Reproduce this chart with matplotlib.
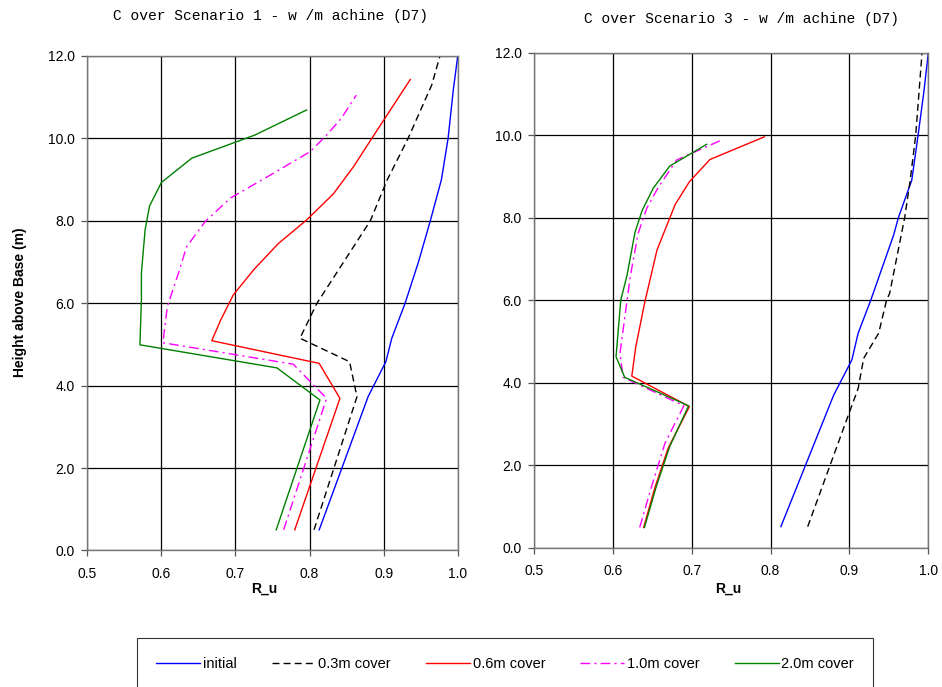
import numpy as np
import matplotlib
matplotlib.use("Agg")
import matplotlib.pyplot as plt

plt.rcParams['font.family'] = ['Liberation Sans', 'DejaVu Sans']

# ---- data (height above base in m, R_u) ----
# Cover scenario 1
s1_init_h = [0.5, 3.73, 4.58, 5.15, 6.0, 7.0, 8.0, 9.0, 10.0, 11.17, 12.0]
s1_init_r = [0.813, 0.879, 0.903, 0.911, 0.929, 0.947, 0.963, 0.978, 0.987, 0.994, 1.0]

s1_c03_h = [0.5, 3.73, 4.58, 5.15, 6.0, 7.0, 8.0, 9.0, 10.0, 11.3, 12.0]
s1_c03_r = [0.806, 0.864, 0.854, 0.787, 0.81, 0.846, 0.882, 0.905, 0.933, 0.965, 0.976]

s1_c06_h = [0.5, 3.69, 4.54, 5.09, 5.59, 6.2, 6.82, 7.45, 8.02, 8.65, 9.33, 10.0, 11.43]
s1_c06_r = [0.780, 0.841, 0.813, 0.668, 0.680, 0.697, 0.725, 0.758, 0.796, 0.832, 0.860, 0.884, 0.936]

s1_c10_h = [0.5, 3.69, 4.52, 5.04, 5.92, 6.73, 7.37, 7.98, 8.55, 9.11, 9.68, 10.08, 10.49, 11.05]
s1_c10_r = [0.765, 0.823, 0.778, 0.602, 0.608, 0.623, 0.634, 0.659, 0.693, 0.747, 0.801, 0.823, 0.843, 0.863]

s1_c20_h = [0.5, 3.65, 4.43, 4.99, 6.08, 6.73, 7.78, 8.36, 8.93, 9.52, 10.08, 10.69]
s1_c20_r = [0.755, 0.814, 0.756, 0.571, 0.573, 0.573, 0.578, 0.584, 0.600, 0.641, 0.726, 0.796]

# Cover scenario 3
s3_init_h = [0.51, 3.70, 4.55, 5.2, 6.0, 7.58, 8.0, 8.91, 10.0, 11.0, 12.0]
s3_init_r = [0.813, 0.880, 0.903, 0.911, 0.927, 0.956, 0.962, 0.979, 0.987, 0.994, 1.0]

s3_c03_h = [0.51, 3.34, 3.86, 4.59, 5.2, 6.0, 6.17, 8.0, 8.91, 10.0, 12.0]
s3_c03_r = [0.847, 0.901, 0.911, 0.918, 0.937, 0.947, 0.951, 0.970, 0.977, 0.984, 0.992]

s3_c06_h = [0.49, 1.44, 2.41, 3.42, 4.16, 4.87, 6.0, 7.22, 8.32, 8.87, 9.41, 9.96]
s3_c06_r = [0.639, 0.653, 0.670, 0.697, 0.624, 0.629, 0.641, 0.656, 0.679, 0.697, 0.723, 0.792]

s3_c10_h = [0.49, 1.48, 2.53, 3.44, 4.13, 4.71, 6.0, 6.57, 7.62, 8.23, 8.75, 9.40, 9.90]
s3_c10_r = [0.634, 0.649, 0.666, 0.690, 0.613, 0.609, 0.618, 0.622, 0.632, 0.643, 0.658, 0.681, 0.740]

s3_c20_h = [0.49, 1.48, 2.45, 3.44, 4.13, 4.63, 6.0, 6.61, 7.64, 8.17, 8.71, 9.25, 9.78]
s3_c20_r = [0.640, 0.655, 0.672, 0.696, 0.615, 0.604, 0.610, 0.618, 0.628, 0.637, 0.651, 0.672, 0.719]

labels = ['initial', '0.3m cover', '0.6m cover', '1.0m cover', '2.0m cover']
titles = ['C over Scenario 1 - w /m achine (D7)', 'C over Scenario 3 - w /m achine (D7)']

styles = [
    dict(color='#0000FF', linestyle='-'),
    dict(color='black', linestyle=(0, (5, 3))),
    dict(color='#FF0000', linestyle='-'),
    dict(color='#FF00FF', linestyle=(0, (7, 3, 1.5, 3))),
    dict(color='#008000', linestyle='-'),
]

panels = [
    [(s1_init_r, s1_init_h), (s1_c03_r, s1_c03_h), (s1_c06_r, s1_c06_h),
     (s1_c10_r, s1_c10_h), (s1_c20_r, s1_c20_h)],
    [(s3_init_r, s3_init_h), (s3_c03_r, s3_c03_h), (s3_c06_r, s3_c06_h),
     (s3_c10_r, s3_c10_h), (s3_c20_r, s3_c20_h)],
]

fig = plt.figure(figsize=(9.42, 6.87), dpi=100)
ax_rects = [[0.0927, 0.1988, 0.3932, 0.7197], [0.5669, 0.2028, 0.4186, 0.7205]]
title_x = [0.287, 0.787]
title_y = [0.977, 0.973]
rlabel_x = [0.281, 0.773]

handles = []
for i, rect in enumerate(ax_rects):
    ax = fig.add_axes(rect)
    for j, (r, h) in enumerate(panels[i]):
        ln, = ax.plot(r, h, lw=1.0, **styles[j])
        if i == 0:
            handles.append(ln)
    ax.set_xlim(0.5, 1.0)
    ax.set_ylim(0, 12)
    ax.set_xticks(np.arange(0.5, 1.01, 0.1))
    ax.set_yticks(np.arange(0, 12.1, 2))
    ax.set_xticklabels(['%.1f' % v for v in np.arange(0.5, 1.01, 0.1)])
    ax.set_yticklabels(['%.1f' % v for v in np.arange(0, 12.1, 2)])
    ax.grid(True, color='black', lw=0.9)
    ax.set_axisbelow(True)
    ax.tick_params(direction='out', length=4, width=0.9, labelsize=10, color='#555555')
    ax.tick_params(axis='x', pad=8)
    ax.tick_params(axis='y', pad=5)
    for sp in ax.spines.values():
        sp.set_color('#777777')
        sp.set_linewidth(1.0)
    fig.text(title_x[i], title_y[i], titles[i], ha='center', va='center',
             fontsize=10.5, family=['Liberation Mono', 'DejaVu Sans Mono'])
    fig.text(rlabel_x[i], 0.143, 'R_u', ha='center', va='center',
             fontsize=10, fontweight='bold')

fig.text(0.021, 0.56, 'Height above Base (m)', rotation=90, ha='center', va='center',
         fontsize=10, fontweight='bold')

leg = fig.legend(handles, labels, loc='upper left', bbox_to_anchor=(0.1455, 0.0713, 0.7813, 0.0),
                 mode='expand', ncol=5, frameon=True, fancybox=False, fontsize=10.5,
                 handlelength=3.0, handletextpad=0.2, borderpad=1.3, borderaxespad=0.0,
                 columnspacing=1.5)
leg.get_frame().set_edgecolor('black')
leg.get_frame().set_linewidth(0.8)

fig.savefig('out.png', dpi=100)
